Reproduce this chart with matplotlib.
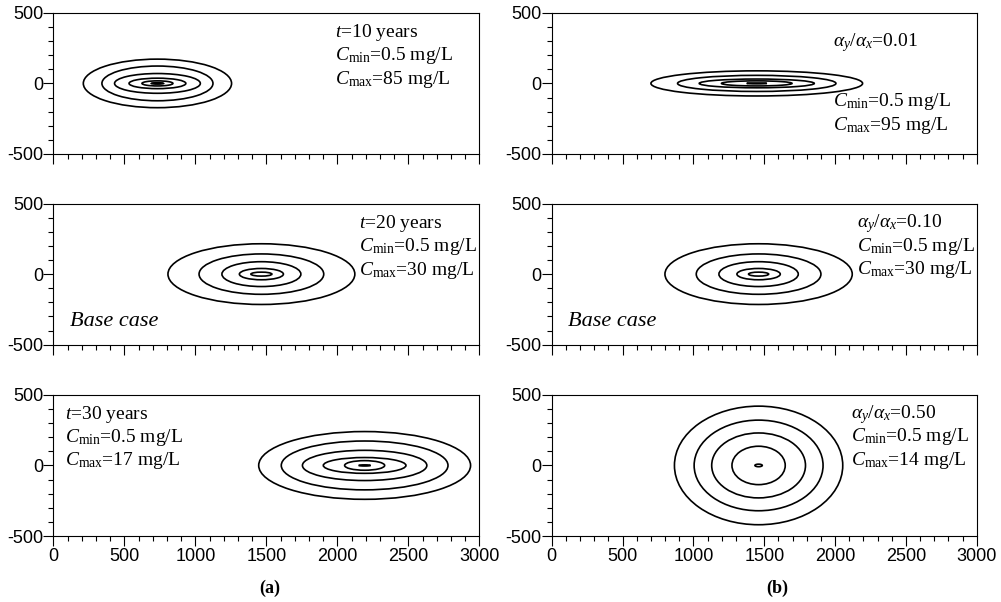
import matplotlib
matplotlib.use("Agg")
import matplotlib.pyplot as plt
from matplotlib.patches import Ellipse
from matplotlib.ticker import MultipleLocator

plt.rcParams['font.family'] = ['Liberation Sans', 'DejaVu Sans']
plt.rcParams['axes.unicode_minus'] = False
plt.rcParams['mathtext.fontset'] = 'custom'
plt.rcParams['mathtext.rm'] = 'Liberation Serif'
plt.rcParams['mathtext.it'] = 'Liberation Serif:italic'
plt.rcParams['mathtext.bf'] = 'Liberation Serif:bold'

# ---- data: plume centres (m) and contour semi-axes (m) ----
centre_a10 = 733
semi_x_a10 = [522, 391, 302, 200, 109, 43]
semi_y_a10 = [172, 123, 70, 37, 18, 5]

centre_a20 = 1465
semi_x_a20 = [658, 439, 278, 155, 74]
semi_y_a20 = [215, 143, 88, 40, 14]

centre_a30 = 2192
semi_x_a30 = [746, 587, 438, 291, 141, 41]
semi_y_a30 = [240, 173, 107, 56, 34, 4]

centre_b001 = 1447
semi_x_b001 = [747, 559, 406, 249, 71]
semi_y_b001 = [89, 57, 31, 18, 3]

centre_b010 = 1460
semi_x_b010 = [661, 440, 280, 153, 71]
semi_y_b010 = [215, 143, 88, 40, 14]

centre_b050 = 1460
semi_x_b050 = [594, 455, 331, 188, 26]
semi_y_b050 = [420, 321, 230, 136, 9]

labels_a10 = [r"$t$=10 years", r"$C_{\mathrm{min}}$=0.5 mg/L", r"$C_{\mathrm{max}}$=85 mg/L"]
labels_a20 = [r"$t$=20 years", r"$C_{\mathrm{min}}$=0.5 mg/L", r"$C_{\mathrm{max}}$=30 mg/L"]
labels_a30 = [r"$t$=30 years", r"$C_{\mathrm{min}}$=0.5 mg/L", r"$C_{\mathrm{max}}$=17 mg/L"]
labels_b001 = [r"$\alpha_y/\alpha_x$=0.01", r"$C_{\mathrm{min}}$=0.5 mg/L", r"$C_{\mathrm{max}}$=95 mg/L"]
labels_b010 = [r"$\alpha_y/\alpha_x$=0.10", r"$C_{\mathrm{min}}$=0.5 mg/L", r"$C_{\mathrm{max}}$=30 mg/L"]
labels_b050 = [r"$\alpha_y/\alpha_x$=0.50", r"$C_{\mathrm{min}}$=0.5 mg/L", r"$C_{\mathrm{max}}$=14 mg/L"]

x_ticks = [0, 500, 1000, 1500, 2000, 2500, 3000]
y_ticks = [-500, 0, 500]

fig = plt.figure(figsize=(10.01, 6.02), dpi=100)

left_x, right_x = 0.0533, 0.5512
widths = [0.4256, 0.4246]
bottoms = [0.7442, 0.4274, 0.1096]
h = 0.2345

panels = [
    (0, 0, centre_a10, semi_x_a10, semi_y_a10, labels_a10, 1984, [330, 163, -5], False),
    (0, 1, centre_b001, semi_x_b001, semi_y_b001, labels_b001, 1988, [265, -162, -329], False),
    (1, 0, centre_a20, semi_x_a20, semi_y_a20, labels_a20, 2155, [328, 161, -6], True),
    (1, 1, centre_b010, semi_x_b010, semi_y_b010, labels_b010, 2153, [332, 165, -2], True),
    (2, 0, centre_a30, semi_x_a30, semi_y_a30, labels_a30, 82, [330, 165, 0], False),
    (2, 1, centre_b050, semi_x_b050, semi_y_b050, labels_b050, 2111, [335, 170, 5], False),
]

for row, col, cx, sx, sy, labs, tx, tys, base in panels:
    x0 = left_x if col == 0 else right_x
    ax = fig.add_axes([x0, bottoms[row], widths[col], h])
    ax.set_xlim(0, 3000)
    ax.set_ylim(-500, 500)
    for a, b in zip(sx, sy):
        ax.add_patch(Ellipse((cx, 0), 2 * a, 2 * b, fill=False,
                             edgecolor='black', linewidth=1.2))
    ax.set_xticks(x_ticks)
    ax.set_yticks(y_ticks)
    ax.xaxis.set_minor_locator(MultipleLocator(100))
    ax.yaxis.set_minor_locator(MultipleLocator(100))
    ax.tick_params(which='major', direction='out', length=7, width=0.8,
                   labelsize=13, pad=1.5)
    ax.tick_params(which='minor', direction='out', length=3.5, width=0.8)
    ax.tick_params(axis='y', pad=0.3)
    if row < 2:
        ax.tick_params(axis='x', labelbottom=False)
    for sp in ax.spines.values():
        sp.set_linewidth(0.8)
    for lab, ty in zip(labs, tys):
        ax.text(tx, ty, lab, fontsize=14, family='Liberation Serif',
                va='baseline', ha='left')
    if base:
        ax.text(118, -365, "Base case", fontsize=16, family='Liberation Serif',
                style='italic', va='baseline', ha='left')

fig.text(0.269, 0.022, "(a)", fontsize=13, family='Liberation Serif',
         weight='bold', ha='center', va='center')
fig.text(0.776, 0.022, "(b)", fontsize=13, family='Liberation Serif',
         weight='bold', ha='center', va='center')

fig.savefig("out.png", dpi=100)
